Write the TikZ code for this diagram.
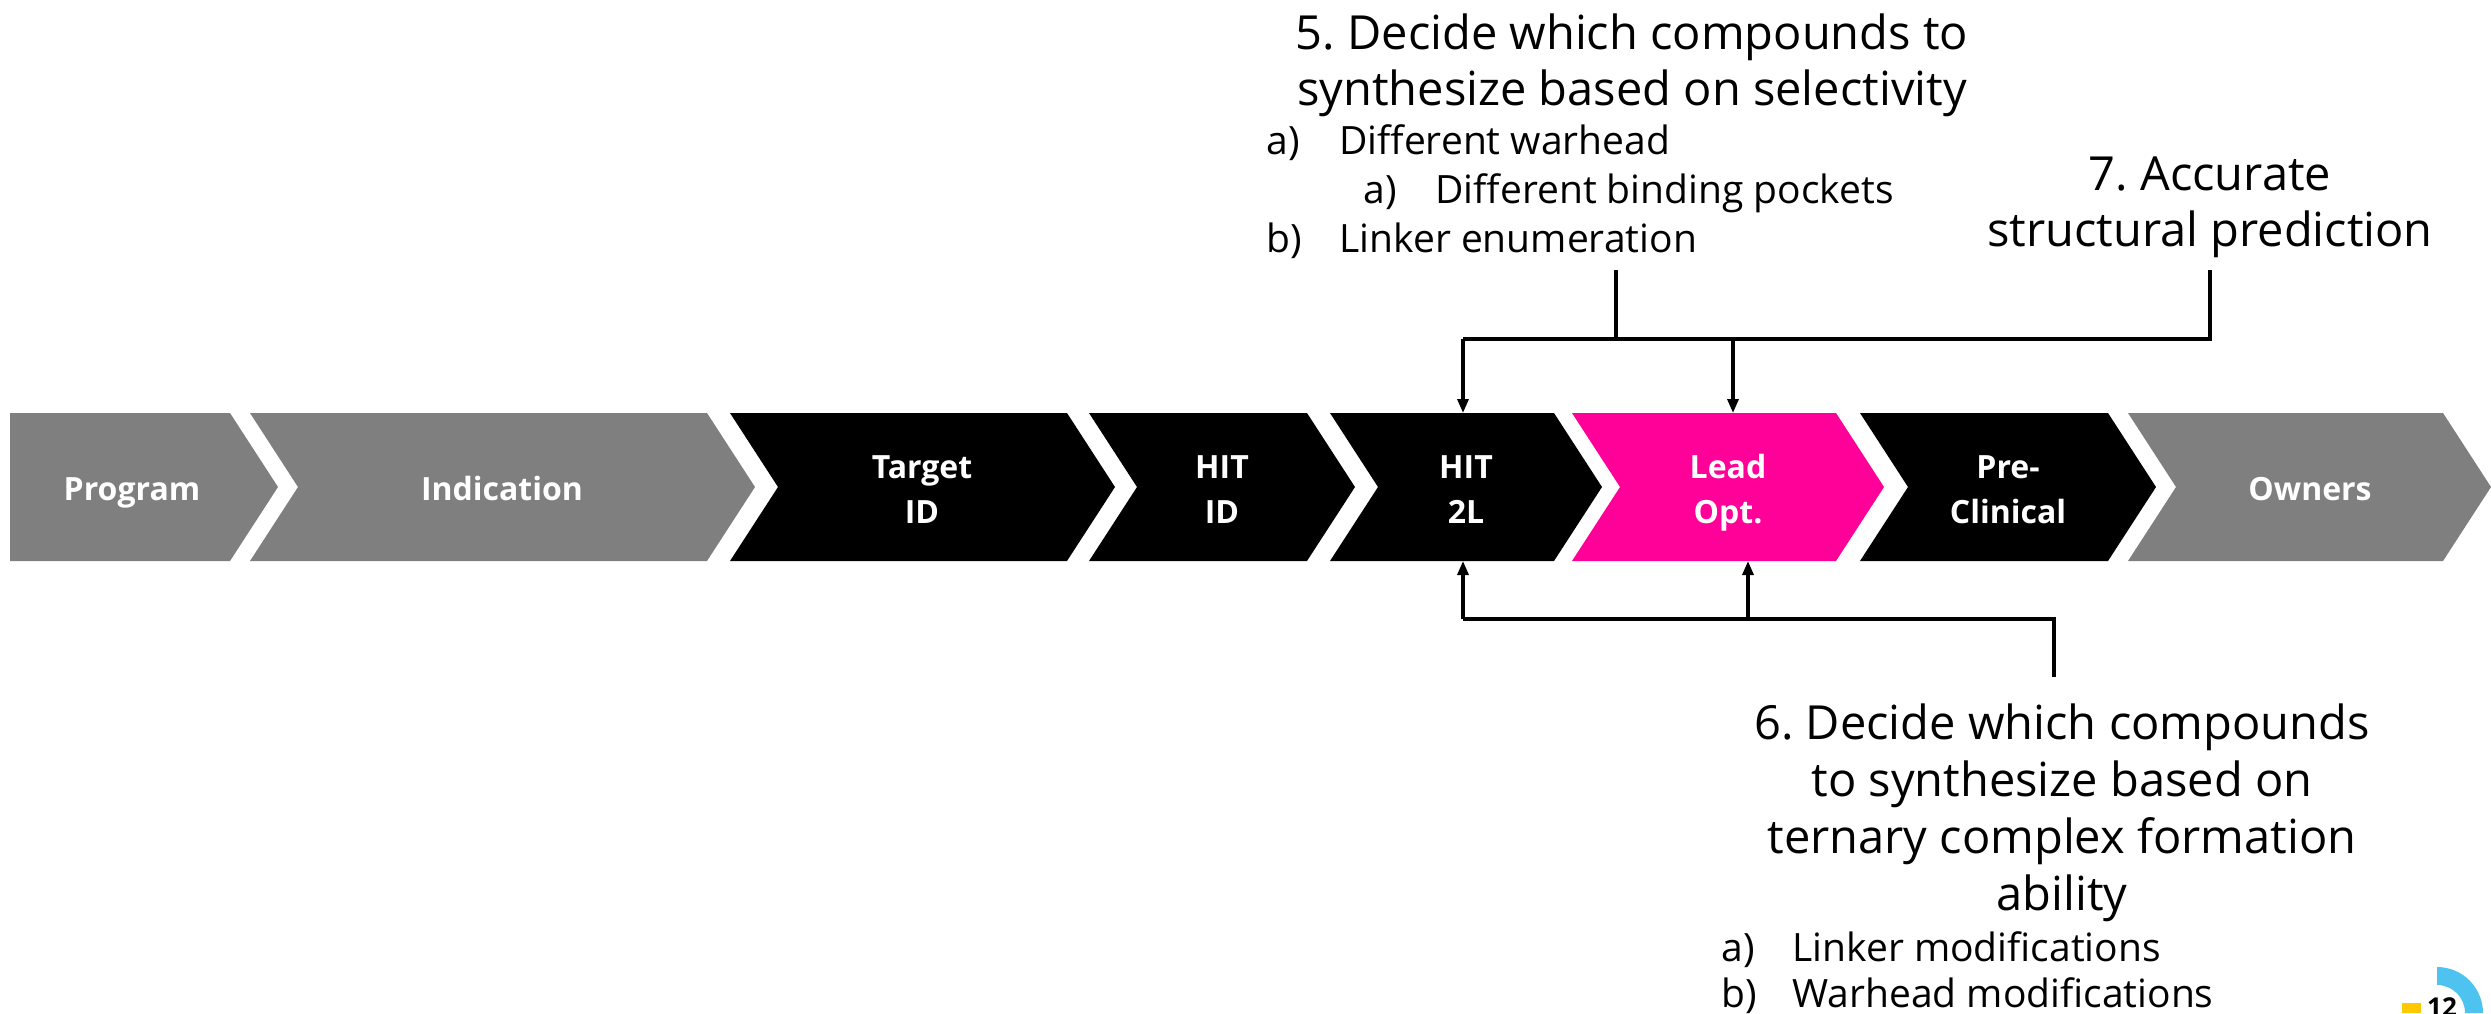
\documentclass[tikz,border=0pt]{standalone}
\usepackage{fontspec}
\setmainfont{Open Sans}
\usetikzlibrary{arrows.meta}
\definecolor{stagegrey}{RGB}{127,127,127}
\definecolor{leadpink}{RGB}{255,0,153}
\definecolor{pageblue}{RGB}{79,195,240}
\definecolor{pageyellow}{RGB}{255,200,0}
\frenchspacing

% one stage of the pipeline: left x, right-shoulder x, colour
\newcommand\stagechevron[3]{%
  \fill[#3] (#1,413) -- (#2,413) -- (#2+48,487) -- (#2,561) -- (#1,561) -- (#1+48,487) -- cycle;}
\newcommand\stackedlines[1]{\begin{tabular}[t]{@{}c@{}}#1\end{tabular}}

\begin{document}
\begin{tikzpicture}[x=0.5pt,y=-0.5pt,
  stagelabel/.style={text=white,anchor=base,inner sep=0pt,
    font=\bfseries\fontsize{16}{22.5}\selectfont},
  bigtext/.style={anchor=base,inner sep=0pt,font=\fontsize{23.5}{28}\selectfont},
  bigtextloose/.style={anchor=base,inner sep=0pt,font=\fontsize{23.5}{28.5}\selectfont},
  listitem/.style={anchor=base west,inner sep=0pt,font=\fontsize{19.5}{24}\selectfont},
  link/.style={line width=1.6pt},
  linkarrow/.style={link,-{Triangle[length=7pt,width=5.5pt]}}]

\useasboundingbox (0,0) rectangle (2491,1013);

% pipeline stages
\fill[stagegrey] (10,413) -- (230,413) -- (278,487) -- (230,561) -- (10,561) -- cycle;
\stagechevron{250}{707}{stagegrey}
\stagechevron{730}{1067}{black}
\stagechevron{1089}{1307}{black}
\stagechevron{1330}{1554}{black}
\stagechevron{1572}{1836}{leadpink}
\stagechevron{1860}{2108}{black}
\stagechevron{2128}{2443}{stagegrey}

\node[stagelabel] (stProgram) at (132,500) {Program};
\node[stagelabel] (stIndication) at (502,500) {Indication};
\node[stagelabel] (stTarget) at (922,478) {\stackedlines{Target\\ID}};
\node[stagelabel] (stHitID) at (1222,478) {\stackedlines{HIT\\ID}};
\node[stagelabel] (stHit2L) at (1466,478) {\stackedlines{HIT\\2L}};
\node[stagelabel] (stLead) at (1728,478) {\stackedlines{Lead\\Opt.}};
\node[stagelabel] (stPre) at (2008,478) {\stackedlines{Pre-\\Clinical}};
\node[stagelabel] (stOwners) at (2310,500) {Owners};

% attachment points on the stages
\coordinate (in2L) at (1463,413);
\coordinate (inLead) at (1733,413);
\coordinate (up2L) at (1463,561);
\coordinate (upLead) at (1748,561);

% step 5
\node[bigtext] (stepFive) at (1632,49)
  {\stackedlines{5. Decide which compounds to\\synthesize based on selectivity}};
\node[listitem] (fiveA) at (1266,154) {\makebox[36.5pt][l]{a)}Different warhead};
\node[listitem] (fiveAA) at (1363,203) {\makebox[36pt][l]{a)}Different binding pockets};
\node[listitem] (fiveB) at (1266,252) {\makebox[36.5pt][l]{b)}Linker enumeration};

% step 7
\node[bigtext] (stepSeven) at (2210,190)
  {\stackedlines{7. Accurate\\structural prediction}};

% step 6
\node[bigtextloose] (stepSix) at (2062,739)
  {\stackedlines{6. Decide which compounds\\to synthesize based on\\ternary complex formation\\ability}};
\node[listitem] (sixA) at (1721,961) {\makebox[35.5pt][l]{a)}Linker modifications};
\node[listitem] (sixB) at (1721,1007) {\makebox[35.5pt][l]{b)}Warhead modifications};

% connectors from steps 5 and 7
\coordinate (stemFive) at (1616,270);
\coordinate (stemSeven) at (2210,270);
\coordinate (busTop) at (1463,339);
\draw[link] (stemFive) -- (stemFive |- busTop);
\draw[link] (stemSeven) |- (busTop);
\draw[linkarrow] (busTop) -- (in2L);
\draw[linkarrow] (busTop -| inLead) -- (inLead);

% connectors from step 6
\coordinate (stemSix) at (2054,677);
\coordinate (busBottom) at (1463,619);
\draw[link] (stemSix) |- (busBottom);
\draw[linkarrow] (busBottom) -- (up2L);
\draw[linkarrow] (busBottom -| upLead) -- (upLead);

% page marker
\fill[pageblue] (2437,967) arc[start angle=90,end angle=0,radius=23pt]
  -- (2465,1013) arc[start angle=0,end angle=90,radius=14pt] -- cycle;
\fill[pageyellow] (2402,1003) rectangle (2421,1013);
\node[anchor=base,inner sep=0pt,font=\bfseries\fontsize{13}{15}\selectfont] (pageNo) at (2442,1016) {12};
\end{tikzpicture}
\end{document}
